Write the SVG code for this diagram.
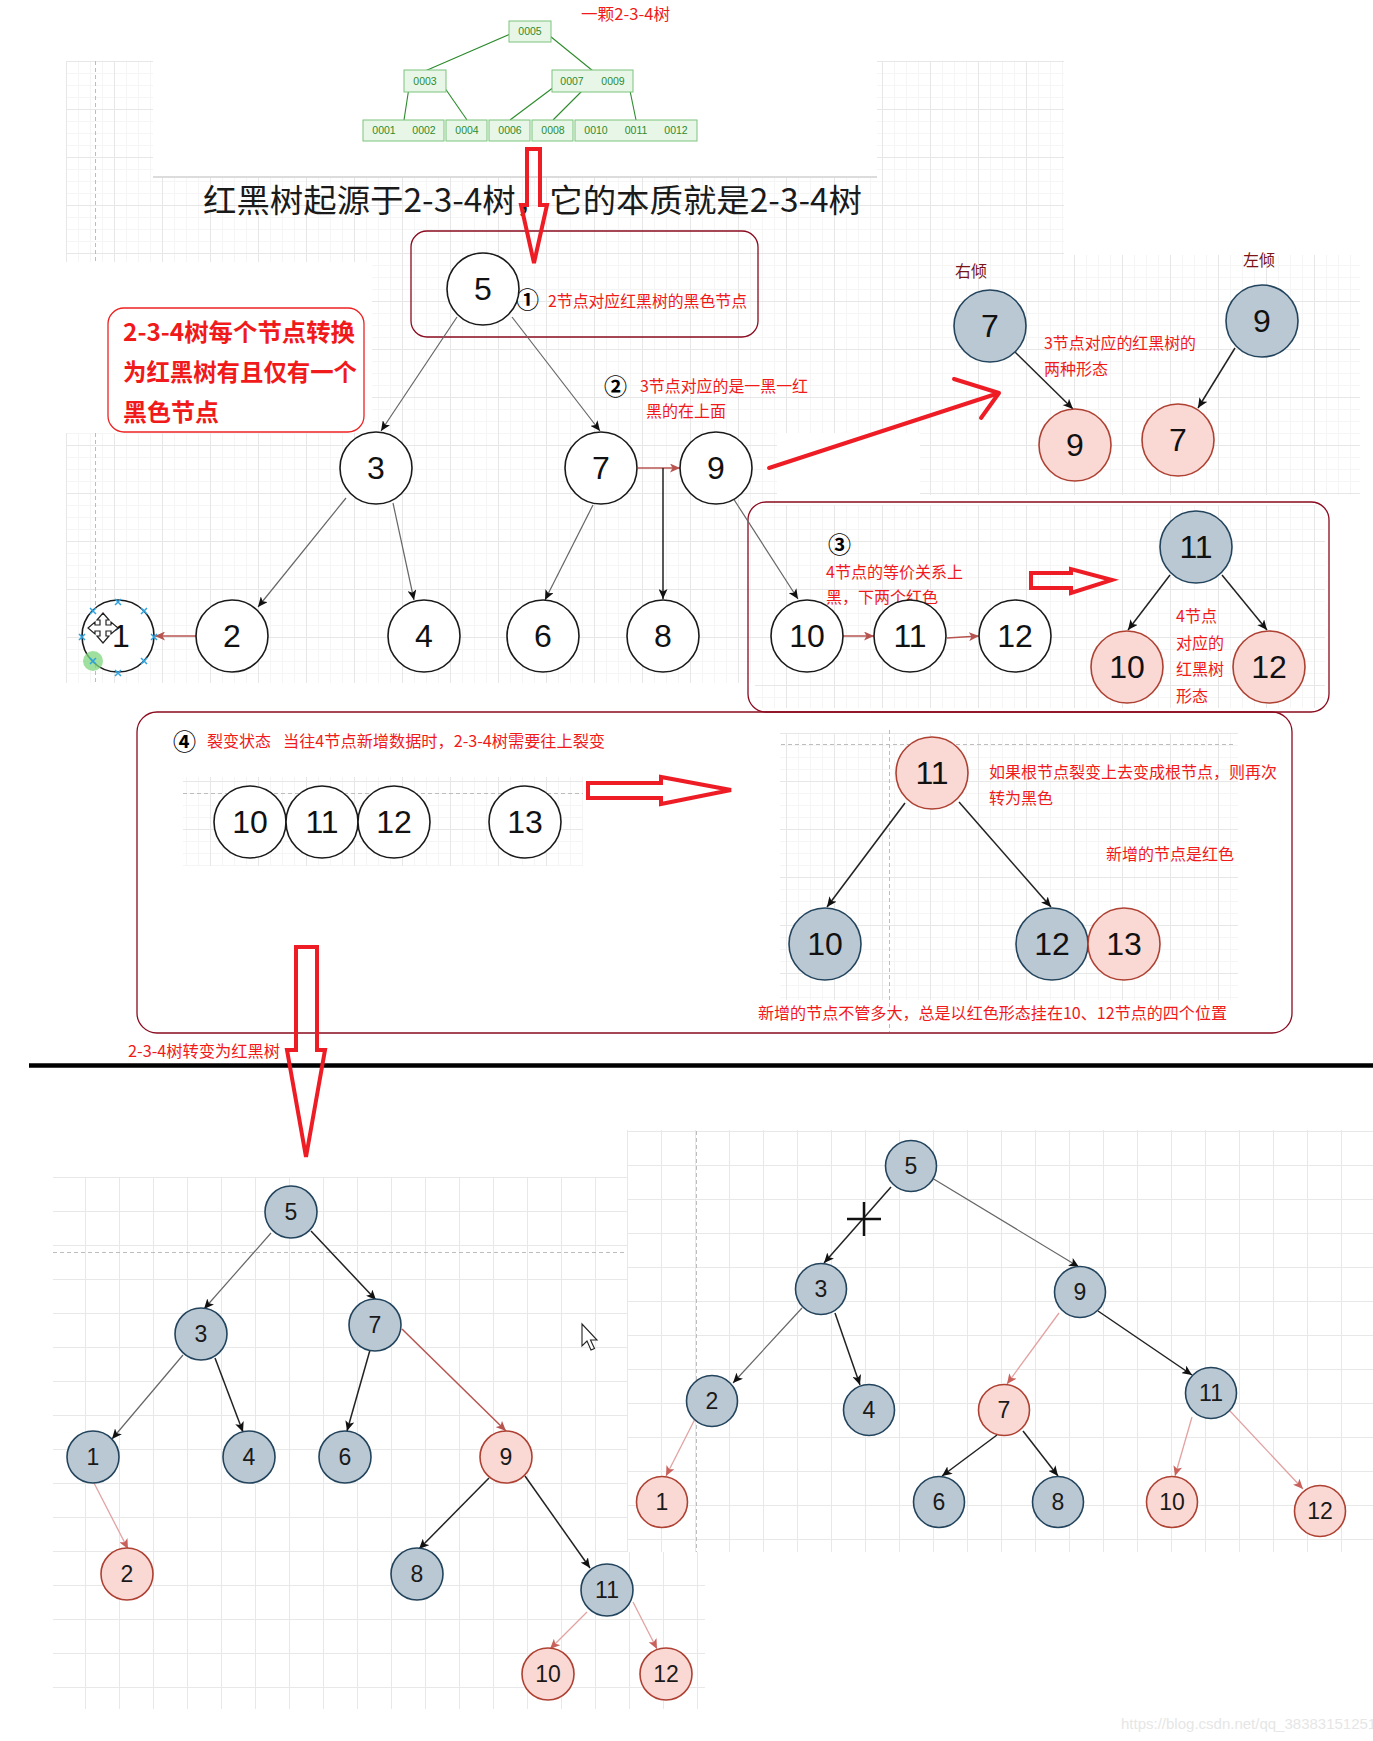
<svg xmlns="http://www.w3.org/2000/svg" width="1373" height="1741" viewBox="0 0 1373 1741">
<style>
.nw{fill:#fff;stroke:#1a1a1a;stroke-width:1.6}
.ng{fill:#bac8d3;stroke:#23445d;stroke-width:1.6}
.np{fill:#fad9d5;stroke:#ae4132;stroke-width:1.6}
.L{font-family:"Liberation Sans",Arial,sans-serif;font-size:32px;fill:#111;text-anchor:middle}
.S{font-family:"Liberation Sans",Arial,sans-serif;font-size:23px;fill:#1a1a1a;text-anchor:middle}
.cn{font-family:"Noto Sans CJK SC","Liberation Sans",sans-serif;fill:#f01a1a;font-size:16px}
.cb{font-family:"Noto Sans CJK SC","Liberation Sans",sans-serif;fill:#f01a1a;font-size:24px;font-weight:bold}
.ci{font-family:"Noto Sans CJK SC","DejaVu Sans",sans-serif;fill:#000;font-size:23px;font-weight:bold}
.gt{font-family:"Liberation Sans",Arial,sans-serif;font-size:10.5px;fill:#2e8b2e;text-anchor:middle}
.gb{fill:#e8f6e8;stroke:#7cc47c;stroke-width:1}
.gl{stroke:#2a8a2a;stroke-width:1.1;fill:none}
.box{fill:none;stroke:#8b0a1e;stroke-width:1.3}
.ha{fill:none;stroke:#ee1c25;stroke-width:4;stroke-linejoin:miter}
.dash{stroke:#bdbdbd;stroke-width:1;stroke-dasharray:4 3;fill:none}
.eg{stroke:#666;stroke-width:1.2;fill:none;marker-end:url(#ab)}
.ek{stroke:#222;stroke-width:1.5;fill:none;marker-end:url(#ab)}
.er{stroke:#b85450;stroke-width:1.5;fill:none;marker-end:url(#ar)}
.ep{stroke:#e2a2a2;stroke-width:1.3;fill:none;marker-end:url(#ap)}
.bx{stroke:#2ea3e0;stroke-width:1.5}
</style>
<defs>
<pattern id="gs" width="48" height="48" patternUnits="userSpaceOnUse" x="18" y="13">
<path d="M12.5 0V48M24.5 0V48M36.5 0V48M0 12.5H48M0 24.5H48M0 36.5H48" stroke="#f5f5f5" stroke-width="1"/>
<path d="M0.5 0V48M0 0.5H48" stroke="#e7e7e7" stroke-width="1"/>
</pattern>
<pattern id="gbl" width="34" height="34" patternUnits="userSpaceOnUse" x="17" y="1177">
<path d="M0.5 0V34M0 0.5H34" stroke="#e8e8e8" stroke-width="1"/>
</pattern>
<pattern id="gbr" width="34" height="34" patternUnits="userSpaceOnUse" x="627" y="1131">
<path d="M0.5 0V34M0 0.5H34" stroke="#e8e8e8" stroke-width="1"/>
</pattern>
<marker id="ab" markerWidth="11" markerHeight="9" refX="10" refY="4.5" orient="auto" markerUnits="userSpaceOnUse">
<path d="M0,0 L10,4.5 L0,9 L2.5,4.5 Z" fill="#111"/>
</marker>
<marker id="ar" markerWidth="11" markerHeight="9" refX="10" refY="4.5" orient="auto" markerUnits="userSpaceOnUse">
<path d="M0,0 L10,4.5 L0,9 L2.5,4.5 Z" fill="#b85450"/>
</marker>
<marker id="ap" markerWidth="11" markerHeight="9" refX="10" refY="4.5" orient="auto" markerUnits="userSpaceOnUse">
<path d="M0,0 L10,4.5 L0,9 L2.5,4.5 Z" fill="#c9605a"/>
</marker>
</defs>
<rect width="1373" height="1741" fill="#fff"/>

<!-- grid backgrounds -->
<g id="backgrounds">
<rect x="66" y="61" width="87" height="201" fill="url(#gs)"/>
<rect x="153" y="177" width="724" height="85" fill="url(#gs)"/>
<rect x="877" y="61" width="187" height="201" fill="url(#gs)"/>
<line x1="153" y1="177" x2="877" y2="177" stroke="#dcdcdc" stroke-width="2"/>
<rect x="372" y="262" width="548" height="171" fill="url(#gs)"/>
<rect x="66" y="433" width="711" height="250" fill="url(#gs)"/>
<rect x="920" y="255" width="440" height="240" fill="url(#gs)"/>
<rect x="755" y="505" width="570" height="203" fill="url(#gs)"/>
<rect x="183" y="777" width="400" height="89" fill="url(#gs)"/>
<rect x="780" y="733" width="458" height="267" fill="url(#gs)"/>
<line class="dash" x1="95.5" y1="61" x2="95.5" y2="262"/>
<line class="dash" x1="95.5" y1="433" x2="95.5" y2="683"/>
<line class="dash" x1="183" y1="793.5" x2="583" y2="793.5"/>
<line class="dash" x1="781" y1="744.5" x2="1236" y2="744.5"/>
<line class="dash" x1="889.5" y1="730" x2="889.5" y2="1032"/>
<rect x="53" y="1177" width="652" height="532" fill="url(#gbl)"/>
<line class="dash" x1="53" y1="1252.5" x2="627" y2="1252.5"/>
<rect x="627" y="1130" width="746" height="422" fill="#fff"/>
<rect x="627" y="1130" width="746" height="422" fill="url(#gbr)"/>
<line class="dash" x1="696.5" y1="1131" x2="696.5" y2="1552"/>
</g>

<!-- top 2-3-4 tree -->
<g id="btree">
<g class="gl">
<line x1="515" y1="32" x2="425" y2="71"/>
<line x1="545" y1="32" x2="593" y2="71"/>
<line x1="410" y1="81" x2="404" y2="120"/>
<line x1="440" y1="81" x2="467" y2="120"/>
<line x1="562" y1="81" x2="510" y2="120"/>
<line x1="592" y1="81" x2="553" y2="120"/>
<line x1="628" y1="81" x2="636" y2="120"/>
</g>
<g id="bt-0005"><rect class="gb" x="509" y="21" width="42" height="21"/><text class="gt" x="530" y="35">0005</text></g>
<g id="bt-0003"><rect class="gb" x="404" y="70" width="42" height="22"/><text class="gt" x="425" y="85">0003</text></g>
<g id="bt-0007"><rect class="gb" x="552" y="70" width="81" height="22"/><text class="gt" x="572" y="85">0007</text><text class="gt" x="613" y="85">0009</text></g>
<g id="bt-0001"><rect class="gb" x="363" y="120" width="81" height="21"/><text class="gt" x="384" y="134">0001</text><text class="gt" x="424" y="134">0002</text></g>
<g id="bt-0004"><rect class="gb" x="446" y="120" width="41" height="21"/><text class="gt" x="467" y="134">0004</text></g>
<g id="bt-0006"><rect class="gb" x="489" y="120" width="41" height="21"/><text class="gt" x="510" y="134">0006</text></g>
<g id="bt-0008"><rect class="gb" x="532" y="120" width="41" height="21"/><text class="gt" x="553" y="134">0008</text></g>
<g id="bt-0010"><rect class="gb" x="575" y="120" width="122" height="21"/><text class="gt" x="596" y="134">0010</text><text class="gt" x="636" y="134">0011</text><text class="gt" x="676" y="134">0012</text></g>
<text class="cn" x="581" y="20" textLength="89" lengthAdjust="spacingAndGlyphs">一颗2-3-4树</text>
</g>

<!-- title -->
<text x="203" y="212" font-family="'Noto Sans CJK SC','Liberation Sans',sans-serif" font-size="32" fill="#1a1a1a" textLength="659" lengthAdjust="spacingAndGlyphs">红黑树起源于2-3-4树，它的本质就是2-3-4树</text>

<!-- annotation boxes -->
<g id="annotations">
<rect class="box" x="411" y="231" width="347" height="106" rx="16"/>
<rect x="108" y="308" width="256" height="124" rx="16" fill="#fff" stroke="#ee2222" stroke-width="1.3"/>
<rect class="box" x="748" y="502" width="581" height="210" rx="18"/>
<rect class="box" x="137" y="712" width="1155" height="321" rx="20"/>
<text class="cb" x="123" y="341" textLength="232" lengthAdjust="spacingAndGlyphs">2-3-4树每个节点转换</text>
<text class="cb" x="123" y="381" textLength="234" lengthAdjust="spacingAndGlyphs">为红黑树有且仅有一个</text>
<text class="cb" x="123" y="421">黑色节点</text>
<text class="ci" x="516" y="308">①</text>
<text class="cn" x="548" y="307" textLength="199" lengthAdjust="spacingAndGlyphs">2节点对应红黑树的黑色节点</text>
<text class="ci" x="604" y="395">②</text>
<text class="cn" x="640" y="392" textLength="168" lengthAdjust="spacingAndGlyphs">3节点对应的是一黑一红</text>
<text class="cn" x="646" y="417">黑的在上面</text>
<text x="955" y="277" font-family="'Noto Sans CJK SC',sans-serif" font-size="16" fill="#7a1418">右倾</text>
<text x="1243" y="266" font-family="'Noto Sans CJK SC',sans-serif" font-size="16" fill="#7a1418">左倾</text>
<text class="cn" x="1044" y="349" textLength="152" lengthAdjust="spacingAndGlyphs">3节点对应的红黑树的</text>
<text class="cn" x="1044" y="375" font-size="15.5">两种形态</text>
<text class="ci" x="828" y="553" font-size="21">③</text>
<text class="cn" x="826" y="578" textLength="137" lengthAdjust="spacingAndGlyphs">4节点的等价关系上</text>
<text class="cn" x="826" y="603" font-size="15.5">黑，下两个红色</text>
<text class="cn" x="1176" y="622" font-size="15.5">4节点</text>
<text class="cn" x="1176" y="649" font-size="15.5">对应的</text>
<text class="cn" x="1176" y="675" font-size="15.5">红黑树</text>
<text class="cn" x="1176" y="702" font-size="15.5">形态</text>
<text class="ci" x="173" y="750">④</text>
<text class="cn" x="207" y="747" textLength="64" lengthAdjust="spacingAndGlyphs">裂变状态</text>
<text class="cn" x="283" y="747" textLength="322" lengthAdjust="spacingAndGlyphs">当往4节点新增数据时，2-3-4树需要往上裂变</text>
<text class="cn" x="989" y="778" textLength="288" lengthAdjust="spacingAndGlyphs">如果根节点裂变上去变成根节点，则再次</text>
<text class="cn" x="989" y="804">转为黑色</text>
<text class="cn" x="1106" y="860" textLength="128" lengthAdjust="spacingAndGlyphs">新增的节点是红色</text>
<text class="cn" x="758" y="1019" textLength="469" lengthAdjust="spacingAndGlyphs">新增的节点不管多大，总是以红色形态挂在10、12节点的四个位置</text>
<text class="cn" x="128" y="1057" textLength="152" lengthAdjust="spacingAndGlyphs">2-3-4树转变为红黑树</text>
</g>

<!-- divider -->
<line x1="29" y1="1065.5" x2="1373" y2="1065.5" stroke="#000" stroke-width="4.5"/>

<!-- big red arrows -->
<g id="red-arrows">
<path class="ha" d="M527,149 L540,149 L540,205 L547,205 L534,263 L521,205 L527,205 Z" fill="#fff" stroke-width="3.5"/>
<path class="ha" d="M296,947 L317,947 L317,1050 L325,1050 L306,1157 L287,1050 L296,1050 Z"/>
<path class="ha" d="M1031,573 L1071,573 L1071,569 L1112,580 L1071,593 L1071,588 L1031,588 Z"/>
<path class="ha" d="M588,783 L661,783 L661,777 L731,790 L661,804 L661,798 L588,798 Z"/>
<path d="M769,468 L999,393 M954,379 L999,393 L981,418" fill="none" stroke="#ee1c25" stroke-width="4" stroke-linecap="round" stroke-linejoin="round"/>
</g>

<!-- connectors -->
<g id="connectors">
<line class="eg" x1="457" y1="317" x2="381" y2="431"/>
<line class="eg" x1="512" y1="317" x2="600" y2="431"/>
<line class="eg" x1="346" y1="498" x2="258" y2="607"/>
<line class="eg" x1="393" y1="503" x2="414" y2="600"/>
<line class="eg" x1="593" y1="505" x2="545" y2="600"/>
<line class="er" x1="638" y1="468" x2="680" y2="468"/>
<line class="ek" x1="663" y1="468" x2="663" y2="599"/>
<line class="eg" x1="733" y1="498" x2="798" y2="599"/>
<line class="er" x1="196" y1="636" x2="155" y2="636"/>
<line class="er" x1="843" y1="636" x2="874" y2="636"/>
<line class="er" x1="947" y1="638" x2="979" y2="636"/>
<line class="ek" x1="1015" y1="352" x2="1073" y2="409"/>
<line class="ek" x1="1235" y1="348" x2="1198" y2="408"/>
<line class="ek" x1="1170" y1="575" x2="1128" y2="630"/>
<line class="ek" x1="1222" y1="575" x2="1267" y2="630"/>
<line class="ek" x1="905" y1="803" x2="827" y2="907"/>
<line class="ek" x1="959" y1="802" x2="1051" y2="907"/>
<line class="eg" x1="271" y1="1233" x2="204" y2="1309"/>
<line class="ek" x1="311" y1="1231" x2="376" y2="1300"/>
<line class="eg" x1="183" y1="1355" x2="112" y2="1439"/>
<line class="ek" x1="215" y1="1358" x2="243" y2="1432"/>
<line class="ek" x1="370" y1="1350" x2="347" y2="1431"/>
<line class="er" x1="402" y1="1329" x2="506" y2="1431" stroke="#c77a76"/>
<line class="ep" x1="94" y1="1483" x2="128" y2="1549"/>
<line class="ek" x1="489" y1="1478" x2="419" y2="1549"/>
<line class="ek" x1="525" y1="1476" x2="590" y2="1568"/>
<line class="ep" x1="587" y1="1612" x2="550" y2="1649"/>
<line class="ep" x1="633" y1="1602" x2="657" y2="1649"/>
<line class="ek" x1="891" y1="1187" x2="824" y2="1263"/>
<line class="eg" x1="932" y1="1178" x2="1079" y2="1267"/>
<line class="eg" x1="802" y1="1308" x2="733" y2="1383"/>
<line class="ek" x1="835" y1="1313" x2="860" y2="1385"/>
<line class="ep" x1="1059" y1="1313" x2="1007" y2="1384"/>
<line class="ek" x1="1098" y1="1311" x2="1192" y2="1375"/>
<line class="ep" x1="696" y1="1417" x2="666" y2="1476"/>
<line class="ek" x1="997" y1="1435" x2="942" y2="1476"/>
<line class="ek" x1="1023" y1="1431" x2="1058" y2="1476"/>
<line class="ep" x1="1192" y1="1417" x2="1175" y2="1476"/>
<line class="ep" x1="1230" y1="1411" x2="1303" y2="1489"/>
</g>

<!-- top tree nodes -->
<g id="t5"><circle class="nw" cx="483" cy="289" r="36"/><text class="L" x="483" y="300">5</text></g>
<g id="t3"><circle class="nw" cx="376" cy="468" r="36"/><text class="L" x="376" y="479">3</text></g>
<g id="t7"><circle class="nw" cx="601" cy="468" r="36"/><text class="L" x="601" y="479">7</text></g>
<g id="t9"><circle class="nw" cx="716" cy="468" r="36"/><text class="L" x="716" y="479">9</text></g>
<g id="t1"><circle class="nw" cx="118" cy="636" r="36"/><text class="L" x="121" y="647">1</text></g>
<g id="t2"><circle class="nw" cx="232" cy="636" r="36"/><text class="L" x="232" y="647">2</text></g>
<g id="t4"><circle class="nw" cx="424" cy="636" r="36"/><text class="L" x="424" y="647">4</text></g>
<g id="t6"><circle class="nw" cx="543" cy="636" r="36"/><text class="L" x="543" y="647">6</text></g>
<g id="t8"><circle class="nw" cx="663" cy="636" r="36"/><text class="L" x="663" y="647">8</text></g>
<g id="t10"><circle class="nw" cx="807" cy="636" r="36"/><text class="L" x="807" y="647">10</text></g>
<g id="t11"><circle class="nw" cx="910" cy="636" r="36"/><text class="L" x="910" y="647">11</text></g>
<g id="t12"><circle class="nw" cx="1015" cy="636" r="36"/><text class="L" x="1015" y="647">12</text></g>

<!-- selection marks on node 1 -->
<g id="selection">
<circle cx="93" cy="661" r="10" fill="#7fd67f" opacity="0.75"/>
<g class="bx">
<path d="M90,608l6,6M96,608l-6,6"/>
<path d="M115,599l6,6M121,599l-6,6"/>
<path d="M141,608l6,6M147,608l-6,6"/>
<path d="M151,634l6,6M157,634l-6,6"/>
<path d="M141,658l6,6M147,658l-6,6"/>
<path d="M115,670l6,6M121,670l-6,6"/>
<path d="M90,658l6,6M96,658l-6,6"/>
<path d="M79,634l6,6M85,634l-6,6"/>
</g>
<path d="M103,613 L109,620 L106,620 L106,625 L111,625 L111,622 L118,628 L111,634 L111,631 L106,631 L106,636 L109,636 L103,643 L97,636 L100,636 L100,631 L95,631 L95,634 L88,628 L95,622 L95,625 L100,625 L100,620 L97,620 Z" fill="#fff" stroke="#222" stroke-width="1.2"/>
</g>

<!-- right-top 3-node forms -->
<g id="r7"><circle class="ng" cx="990" cy="326" r="36"/><text class="L" x="990" y="337">7</text></g>
<g id="r9"><circle class="np" cx="1075" cy="445" r="36"/><text class="L" x="1075" y="456">9</text></g>
<g id="l9"><circle class="ng" cx="1262" cy="321" r="36"/><text class="L" x="1262" y="332">9</text></g>
<g id="l7"><circle class="np" cx="1178" cy="440" r="36"/><text class="L" x="1178" y="451">7</text></g>

<!-- 4-node form -->
<g id="f11"><circle class="ng" cx="1196" cy="547" r="36"/><text class="L" x="1196" y="558">11</text></g>
<g id="f10"><circle class="np" cx="1127" cy="667" r="36"/><text class="L" x="1127" y="678">10</text></g>
<g id="f12"><circle class="np" cx="1269" cy="667" r="36"/><text class="L" x="1269" y="678">12</text></g>

<!-- split state -->
<g id="s10"><circle class="nw" cx="250" cy="822" r="36"/><text class="L" x="250" y="833">10</text></g>
<g id="s11"><circle class="nw" cx="322" cy="822" r="36"/><text class="L" x="322" y="833">11</text></g>
<g id="s12"><circle class="nw" cx="394" cy="822" r="36"/><text class="L" x="394" y="833">12</text></g>
<g id="s13"><circle class="nw" cx="525" cy="822" r="36"/><text class="L" x="525" y="833">13</text></g>
<g id="u11"><circle class="np" cx="932" cy="773" r="36"/><text class="L" x="932" y="784">11</text></g>
<g id="u10"><circle class="ng" cx="825" cy="944" r="36"/><text class="L" x="825" y="955">10</text></g>
<g id="u12"><circle class="ng" cx="1052" cy="944" r="36"/><text class="L" x="1052" y="955">12</text></g>
<g id="u13"><circle class="np" cx="1124" cy="944" r="36"/><text class="L" x="1124" y="955">13</text></g>

<!-- bottom-left red-black tree -->
<g id="a5"><circle class="ng" cx="291" cy="1212" r="26"/><text class="S" x="291" y="1220">5</text></g>
<g id="a3"><circle class="ng" cx="201" cy="1334" r="26"/><text class="S" x="201" y="1342">3</text></g>
<g id="a7"><circle class="ng" cx="375" cy="1325" r="26"/><text class="S" x="375" y="1333">7</text></g>
<g id="a1"><circle class="ng" cx="93" cy="1457" r="26"/><text class="S" x="93" y="1465">1</text></g>
<g id="a4"><circle class="ng" cx="249" cy="1457" r="26"/><text class="S" x="249" y="1465">4</text></g>
<g id="a6"><circle class="ng" cx="345" cy="1457" r="26"/><text class="S" x="345" y="1465">6</text></g>
<g id="a9"><circle class="np" cx="506" cy="1457" r="26"/><text class="S" x="506" y="1465">9</text></g>
<g id="a2"><circle class="np" cx="127" cy="1574" r="26"/><text class="S" x="127" y="1582">2</text></g>
<g id="a8"><circle class="ng" cx="417" cy="1574" r="26"/><text class="S" x="417" y="1582">8</text></g>
<g id="a11"><circle class="ng" cx="607" cy="1590" r="26"/><text class="S" x="607" y="1598">11</text></g>
<g id="a10"><circle class="np" cx="548" cy="1674" r="26"/><text class="S" x="548" y="1682">10</text></g>
<g id="a12"><circle class="np" cx="666" cy="1674" r="26"/><text class="S" x="666" y="1682">12</text></g>
<path d="M582,1324 L582,1346 L587,1341 L591,1350 L594.5,1348.5 L590.5,1340 L597,1340 Z" fill="#fff" stroke="#222" stroke-width="1.1"/>

<!-- bottom-right red-black tree -->
<g id="b5"><circle class="ng" cx="911" cy="1166" r="25.5"/><text class="S" x="911" y="1174">5</text></g>
<g id="b3"><circle class="ng" cx="821" cy="1289" r="25.5"/><text class="S" x="821" y="1297">3</text></g>
<g id="b9"><circle class="ng" cx="1080" cy="1292" r="25.5"/><text class="S" x="1080" y="1300">9</text></g>
<g id="b2"><circle class="ng" cx="712" cy="1401" r="25.5"/><text class="S" x="712" y="1409">2</text></g>
<g id="b4"><circle class="ng" cx="869" cy="1410" r="25.5"/><text class="S" x="869" y="1418">4</text></g>
<g id="b7"><circle class="np" cx="1004" cy="1410" r="25.5"/><text class="S" x="1004" y="1418">7</text></g>
<g id="b11"><circle class="ng" cx="1211" cy="1393" r="25.5"/><text class="S" x="1211" y="1401">11</text></g>
<g id="b1"><circle class="np" cx="662" cy="1502" r="25.5"/><text class="S" x="662" y="1510">1</text></g>
<g id="b6"><circle class="ng" cx="939" cy="1502" r="25.5"/><text class="S" x="939" y="1510">6</text></g>
<g id="b8"><circle class="ng" cx="1058" cy="1502" r="25.5"/><text class="S" x="1058" y="1510">8</text></g>
<g id="b10"><circle class="np" cx="1172" cy="1502" r="25.5"/><text class="S" x="1172" y="1510">10</text></g>
<g id="b12"><circle class="np" cx="1320" cy="1511" r="25.5"/><text class="S" x="1320" y="1519">12</text></g>
<path d="M847,1219 H881 M864,1202 V1236" stroke="#111" stroke-width="2.5"/>

<text x="1121" y="1729" font-family="'Liberation Sans',Arial,sans-serif" font-size="15" fill="#e6e6e6">https://blog.csdn.net/qq_38383151251</text>
</svg>
